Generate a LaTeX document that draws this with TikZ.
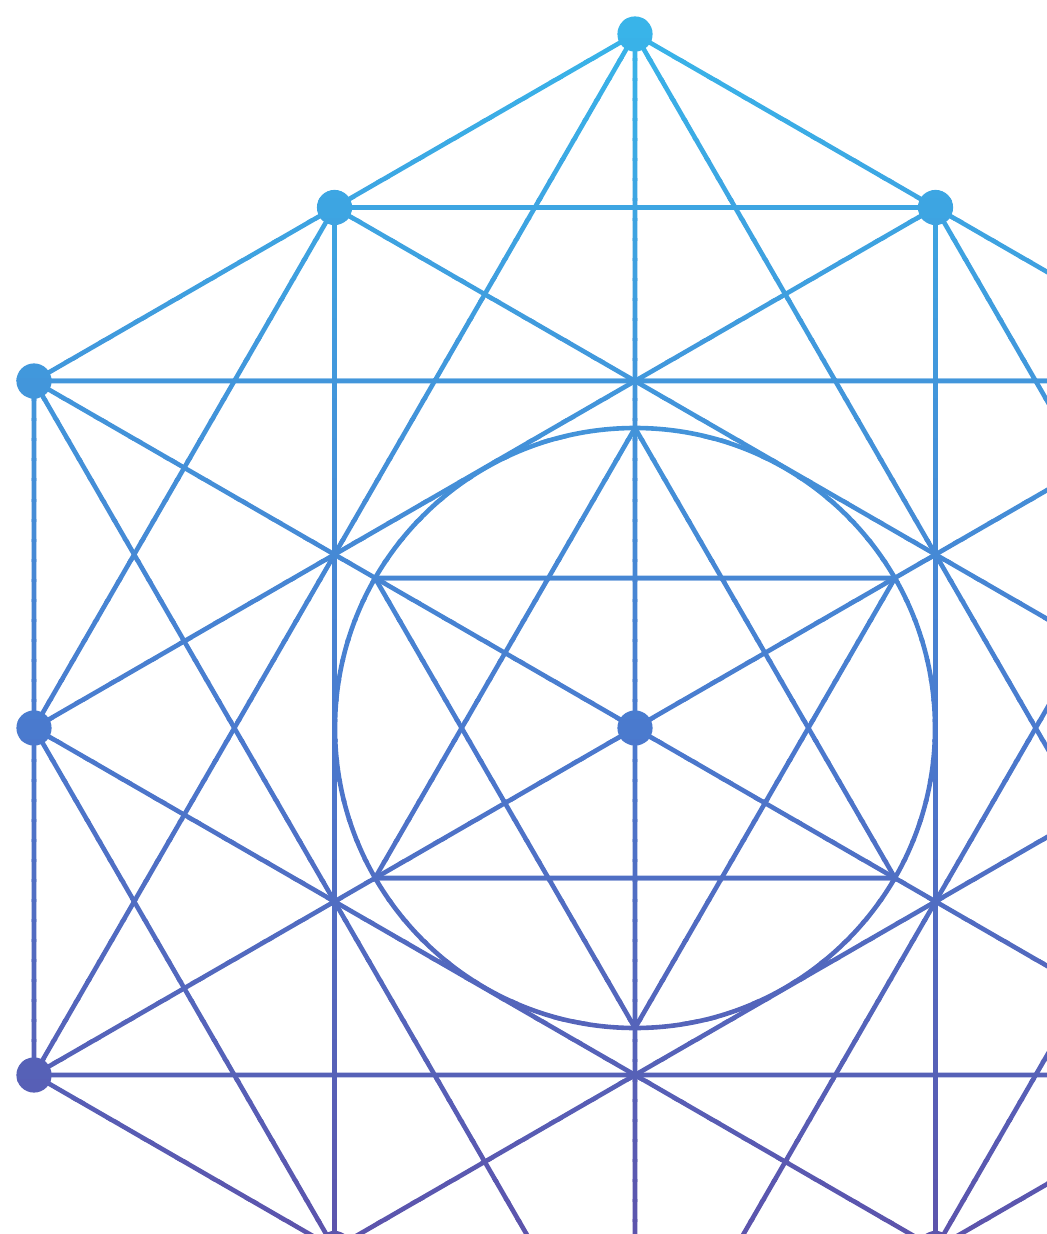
\documentclass[tikz,border=0pt]{standalone}
\usepackage{xcolor}
\definecolor{ctop}{RGB}{56,182,234}
\definecolor{cmid}{RGB}{74,122,206}
\definecolor{cbot}{RGB}{92,84,172}
\begin{document}
\begin{tikzpicture}[x=0.5pt,y=-0.5pt,
  geo/.style={line width=2.3pt},
  dotc/.style={radius=8.8pt}]
\useasboundingbox (0,0) rectangle (1047,1234);
% centre and hexagon vertices
\coordinate (C) at (635,728);
\coordinate (V0) at (635,34);
\coordinate (V1) at (1236,381);
\coordinate (V2) at (1236,1075);
\coordinate (V3) at (635,1422);
\coordinate (V4) at (34,1075);
\coordinate (V5) at (34,381);
% edge midpoints
\coordinate (M01) at (935.5,207.5);
\coordinate (M12) at (1236,728);
\coordinate (M23) at (935.5,1248.5);
\coordinate (M34) at (334.5,1248.5);
\coordinate (M45) at (34,728);
\coordinate (M50) at (334.5,207.5);
% inner hexagram on the circle
\coordinate (I90) at (635,428);
\coordinate (I30) at (895,578);
\coordinate (I150) at (375,578);
\coordinate (I210) at (375,878);
\coordinate (I270) at (635,1028);
\coordinate (I330) at (895,878);
\newcommand\figurelines{%
  \draw[geo] (V0)--(V1)--(V2)--(V3)--(V4)--(V5)--cycle;
  \draw[geo] (V0)--(V2)--(V4)--cycle;
  \draw[geo] (V1)--(V3)--(V5)--cycle;
  \draw[geo] (V0)--(V3) (V1)--(V4) (V2)--(V5);
  \draw[geo] (M01)--(M12)--(M23)--(M34)--(M45)--(M50)--cycle;
  \draw[geo] (M01)--(M23)--(M45)--cycle;
  \draw[geo] (M12)--(M34)--(M50)--cycle;
  \draw[geo] (C) circle[radius=150pt];
  \draw[geo] (I90)--(I210)--(I330)--cycle;
  \draw[geo] (I270)--(I30)--(I150)--cycle;
  \foreach \p in {V0,V1,V2,V3,V4,V5,M01,M12,M23,M34,M45,M50,C}
    \fill (\p) circle[dotc];
}
\foreach \k in {0,...,62} {
  \pgfmathsetmacro\ya{\k*20-1}
  \pgfmathsetmacro\yb{\k*20+21}
  \pgfmathsetmacro\ym{\k*20+10}
  \ifdim \ym pt<728pt
    \pgfmathtruncatemacro\pc{\ym/7.28}
    \colorlet{bandc}{cmid!\pc!ctop}
  \else
    \pgfmathtruncatemacro\pc{min(100,(\ym-728)/5.06)}
    \colorlet{bandc}{cbot!\pc!cmid}
  \fi
  \begin{scope}[color=bandc]
    \clip (-20,\ya) rectangle (1070,\yb);
    \figurelines
  \end{scope}
}
\end{tikzpicture}
\end{document}
